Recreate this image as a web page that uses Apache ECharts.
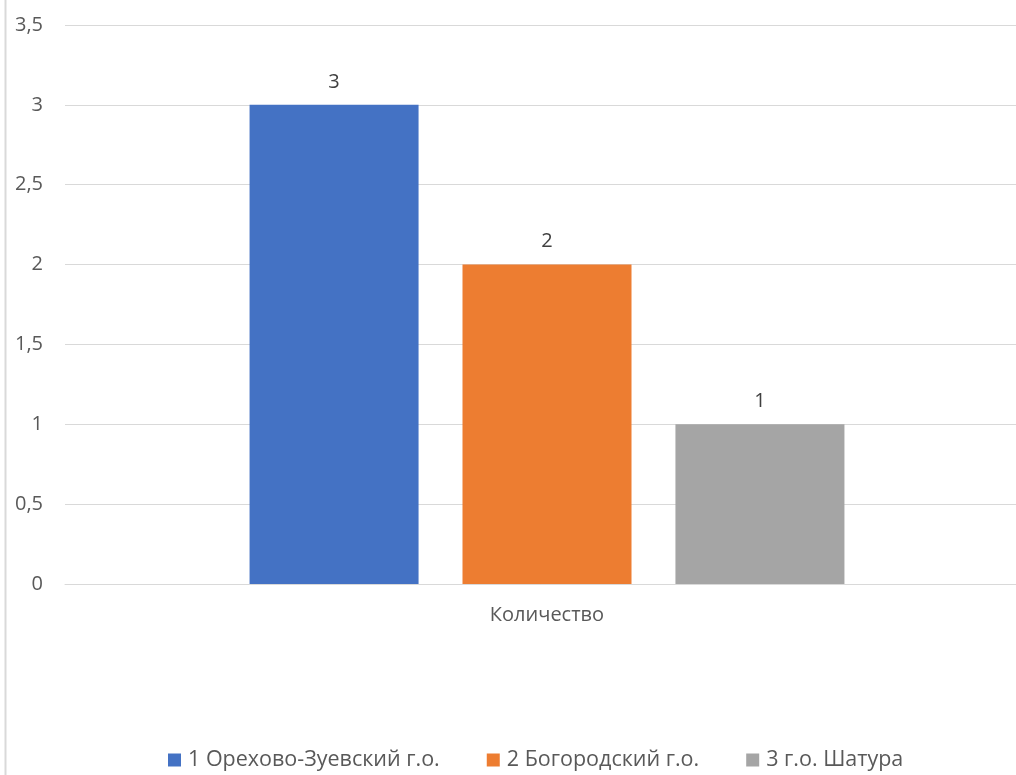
<!DOCTYPE html>
<html><head><meta charset="utf-8">
<script src="https://cdn.jsdelivr.net/npm/echarts@6/dist/echarts.min.js"></script>
<style>html,body{margin:0;padding:0;background:#fff}#c{width:1016px;height:775px}</style>
</head><body><div id="c"></div>
<script>
const categories = ['Количество'];
const seriesNames = ['1 Орехово-Зуевский г.о.', '2 Богородский г.о.', '3 г.о. Шатура'];
const seriesValues = [[3], [2], [1]];
const colors = ['#4472C4', '#ED7D31', '#A5A5A5'];
const FONT = 'Open Sans';

const chart = echarts.init(document.getElementById('c'));
chart.setOption({
  animation: false,
  textStyle: {fontFamily: FONT},
  grid: {left: 65, right: -13, top: 25, bottom: 191, containLabel: false, outerBoundsMode: 'none'},
  graphic: [{type: 'line', shape: {x1: 5.5, y1: 0, x2: 5.5, y2: 775}, style: {stroke: '#d9d9d9', lineWidth: 2}}],
  legend: {
    bottom: -1, left: 163, itemWidth: 13, itemHeight: 13, itemGap: 47, icon: 'rect',
    textStyle: {fontFamily: FONT, fontSize: 21.5, color: '#595959', padding: [0, 0, 0, 2]},
    data: seriesNames
  },
  xAxis: {
    type: 'category', data: categories,
    axisLine: {show: true, lineStyle: {color: '#d9d9d9', width: 1}},
    axisTick: {show: false},
    axisLabel: {fontFamily: FONT, fontSize: 20, color: '#595959', margin: 21}
  },
  yAxis: {
    type: 'value', min: 0, max: 3.5, interval: 0.5,
    axisLine: {show: false}, axisTick: {show: false},
    splitLine: {lineStyle: {color: '#d9d9d9', width: 1}},
    axisLabel: {fontFamily: FONT, fontSize: 20, color: '#595959', margin: 22, formatter: v => String(v).replace('.', ',')}
  },
  series: seriesNames.map((n, i) => ({
    name: n, type: 'bar', data: seriesValues[i], barWidth: 169, barGap: '26%',
    itemStyle: {color: colors[i]},
    label: {show: true, position: 'top', distance: 13, fontFamily: FONT, fontSize: 20, color: '#404040'}
  }))
});
</script></body></html>
